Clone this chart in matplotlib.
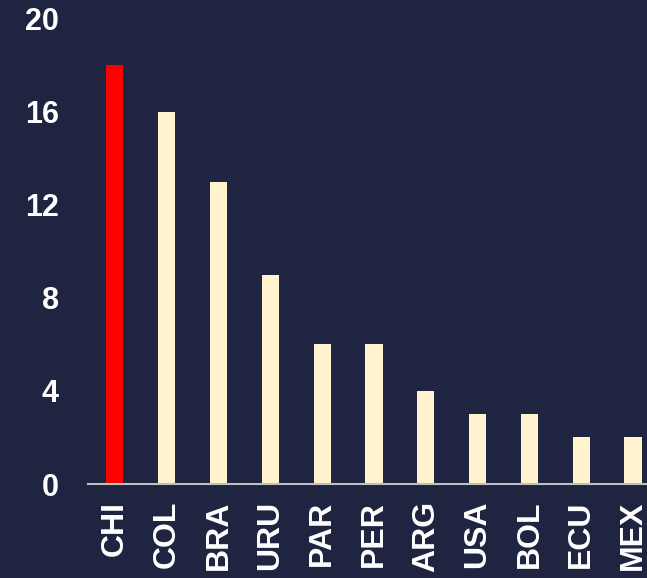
import matplotlib.pyplot as plt
from matplotlib import font_manager

# Equipos y cantidad
equipos = ["CHI", "COL", "BRA", "URU", "PAR", "PER", "ARG", "USA", "BOL", "ECU", "MEX"]
valores = [18, 16, 13, 9, 6, 6, 4, 3, 3, 2, 2]
colores = ["#ff0000"] + ["#fff2cc"] * (len(equipos) - 1)

fondo = "#1f2540"

# Fuente Liberation Sans Bold (no la Narrow)
ruta = None
for f in font_manager.findSystemFonts():
    if f.endswith("LiberationSans-Bold.ttf"):
        ruta = f
        break
if ruta:
    fuente_x = font_manager.FontProperties(fname=ruta, size=23)
    fuente_y = font_manager.FontProperties(fname=ruta, size=22)
else:
    fuente_x = font_manager.FontProperties(family="DejaVu Sans", weight="bold", size=21)
    fuente_y = font_manager.FontProperties(family="DejaVu Sans", weight="bold", size=20)

fig = plt.figure(figsize=(6.47, 5.78), dpi=100, facecolor=fondo)
ax = fig.add_axes([0.136, 0.1626, 0.864, 0.805], facecolor=fondo)

ax.bar(range(len(equipos)), valores, width=0.33, color=colores)

ax.set_xlim(-0.52, 10.27)
ax.set_ylim(0, 20)
ax.set_yticks([0, 4, 8, 12, 16, 20])
ax.set_xticks(range(len(equipos)))
ax.set_xticklabels(equipos, rotation=90, fontproperties=fuente_x)
ax.set_yticklabels([0, 4, 8, 12, 16, 20], fontproperties=fuente_y)

for s in ["top", "right", "left"]:
    ax.spines[s].set_visible(False)
ax.spines["bottom"].set_color("#bfbfbf")
ax.spines["bottom"].set_linewidth(1.5)

ax.tick_params(axis="y", length=0, pad=21, labelcolor="white")
ax.tick_params(axis="x", length=0, pad=12, labelcolor="white")

fig.savefig("out.png", dpi=100, facecolor=fondo)
